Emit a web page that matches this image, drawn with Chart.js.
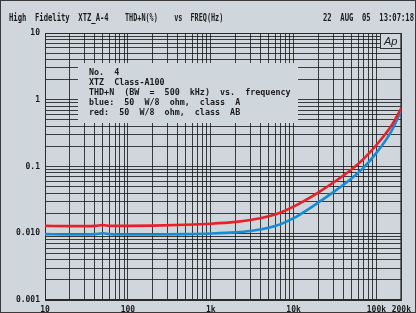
<!DOCTYPE html>
<html><head><meta charset="utf-8">
<script src="https://cdn.jsdelivr.net/npm/chart.js@4.4.1/dist/chart.umd.min.js"></script>
<style>
html,body{margin:0;padding:0;background:#cfd7dd;overflow:hidden;}
#wrap{width:416px;height:313px;position:relative;}
canvas{display:block;}
</style></head><body>
<div id="wrap"><canvas id="c" width="416" height="313"></canvas></div>
<script>
// ---- data ----
const freqs = [10,20,30,40,50,60,80,100,200,500,1000,2000,3000,5000,7000,10000,15000,20000,30000,50000,70000,100000,150000,200000];
const thdRed = [0.0129,0.0128,0.0128,0.0129,0.0133,0.0129,0.0129,0.0129,0.0130,0.0134,0.0139,0.0148,0.0158,0.0180,0.0205,0.0250,0.0330,0.0410,0.0570,0.090,0.130,0.210,0.40,0.75];
const thdBlue = [0.0097,0.0096,0.0096,0.0097,0.0100,0.0097,0.0096,0.0096,0.0096,0.0097,0.0099,0.0103,0.0108,0.0121,0.0137,0.0168,0.0228,0.0290,0.0410,0.066,0.096,0.160,0.33,0.70];
const xLabelValues = [10,100,1000,10000,100000,200000];
const xLabelTexts = ['10','100','1k','10k','100k','200k'];
const yLabelValues = [10,1,0.1,0.01,0.001];
const yLabelTexts = ['10','1','0.1','0.010','0.001'];
const headerLeft = 'High  Fidelity  XTZ_A-4';
const headerMid = 'THD+N(%)    vs  FREQ(Hz)';
const headerRight = '22  AUG  05  13:07:18';
const noteLines = ['No.  4','XTZ  Class-A100','THD+N  (BW  =  500  kHz)  vs.  frequency','blue:  50  W/8  ohm,  class  A','red:  50  W/8  ohm,  class  AB'];
const logoText = 'Ap';

// ---- helpers ----
function decadeTicks(min, max){
  const out=[];
  for(let e=Math.round(Math.log10(min)); e<=Math.round(Math.log10(max)); e++){
    for(let m=1;m<=9;m++){ const v=+(m*Math.pow(10,e)).toPrecision(6); if(v>=min*0.999 && v<=max*1.001) out.push(v);} }
  return out;
}
function labelFor(v, vals, texts){
  for(let i=0;i<vals.length;i++){ if(Math.abs(v/vals[i]-1)<1e-6) return texts[i]; }
  return '';
}
const BG='#cfd7dd', INK='#1a1a1a', GRID='rgba(25,25,25,0.82)';
const MONO='"DejaVu Sans Mono", "Liberation Mono", monospace';

function fitText(ctx, text, x, y, scale, align){
  ctx.save();
  const w = ctx.measureText(text).width*scale;
  let sx = x; if(align==='right') sx = x - w;
  ctx.translate(sx, y); ctx.scale(scale,1);
  ctx.textAlign='left'; ctx.fillText(text,0,0);
  ctx.restore();
}

const decor = {
  id:'decor',
  beforeDraw(chart){
    const ctx=chart.ctx; ctx.save();
    ctx.fillStyle=BG; ctx.fillRect(0,0,chart.width,chart.height);
    ctx.restore();
  },
  beforeDatasetsDraw(chart){
    const ctx=chart.ctx, a=chart.chartArea; ctx.save();
    ctx.fillStyle=BG; ctx.fillRect(78,63,220,60);
    ctx.fillRect(380,a.top,a.right-380,15);
    ctx.strokeStyle='#333'; ctx.lineWidth=1;
    ctx.strokeRect(380.5,a.top+0.5,a.right-380.5,15);
    ctx.strokeStyle='#2a2a2a';
    ctx.strokeRect(a.left+0.5,a.top+0.5,a.right-a.left-1,a.bottom-a.top-1);
    ctx.restore();
  },
  afterDraw(chart){
    const ctx=chart.ctx; ctx.save();
    ctx.fillStyle=INK; ctx.textBaseline='alphabetic';
    ctx.font='bold 10px '+MONO;
    fitText(ctx, headerLeft, 9, 20.5, 0.72);
    fitText(ctx, headerMid, 125, 20.5, 0.68);
    fitText(ctx, headerRight, 414, 20.5, 0.72, 'right');
    ctx.font='bold 9px '+MONO;
    noteLines.forEach((t,i)=>fitText(ctx, t, 89, 74.5+i*10, 0.93));
    ctx.font='italic 11px "Liberation Sans", Arial, sans-serif';
    ctx.fillStyle='#222';
    ctx.fillText(logoText, 384, 44.5);
    ctx.strokeStyle='#3a3a3a'; ctx.lineWidth=1;
    ctx.strokeRect(0.5,0.5,chart.width-1,chart.height-1);
    ctx.restore();
  }
};

new Chart(document.getElementById('c'), {
  type:'line',
  data:{ datasets:[
    {label:'red', data:freqs.map((f,i)=>({x:f,y:thdRed[i]})), borderColor:'rgb(232,32,42)', borderWidth:2.6, pointRadius:0, cubicInterpolationMode:'monotone', fill:false},
    {label:'blue', data:freqs.map((f,i)=>({x:f,y:thdBlue[i]})), borderColor:'rgb(22,140,215)', borderWidth:2.6, pointRadius:0, cubicInterpolationMode:'monotone', fill:false}
  ]},
  options:{
    responsive:false, animation:false, devicePixelRatio:1,
    layout:{padding:{left:0,top:33,right:11,bottom:0}},
    plugins:{legend:{display:false}, tooltip:{enabled:false}, title:{display:false}},
    scales:{
      x:{type:'logarithmic', min:10, max:200000,
        afterBuildTicks(s){ s.ticks = decadeTicks(10,200000).map(v=>({value:v})); },
        afterFit(s){ s.height=13; },
        grid:{color:GRID, lineWidth:1, drawTicks:false},
        border:{display:true,color:'#2a2a2a'},
        ticks:{autoSkip:false, maxRotation:0, minRotation:0, padding:5, color:INK,
          font:{family:MONO, weight:'bold', size:8},
          callback:(v)=>labelFor(v,xLabelValues,xLabelTexts)}
      },
      y:{type:'logarithmic', min:0.001, max:10,
        afterBuildTicks(s){ s.ticks = decadeTicks(0.001,10).map(v=>({value:v})); },
        afterFit(s){ s.width=45; },
        grid:{color:GRID, lineWidth:1, drawTicks:false},
        border:{display:true,color:'#2a2a2a'},
        ticks:{autoSkip:false, padding:5, color:INK,
          font:{family:MONO, weight:'bold', size:8},
          callback:(v)=>labelFor(v,yLabelValues,yLabelTexts)}
      }
    }
  },
  plugins:[decor]
});
</script>
</body></html>
